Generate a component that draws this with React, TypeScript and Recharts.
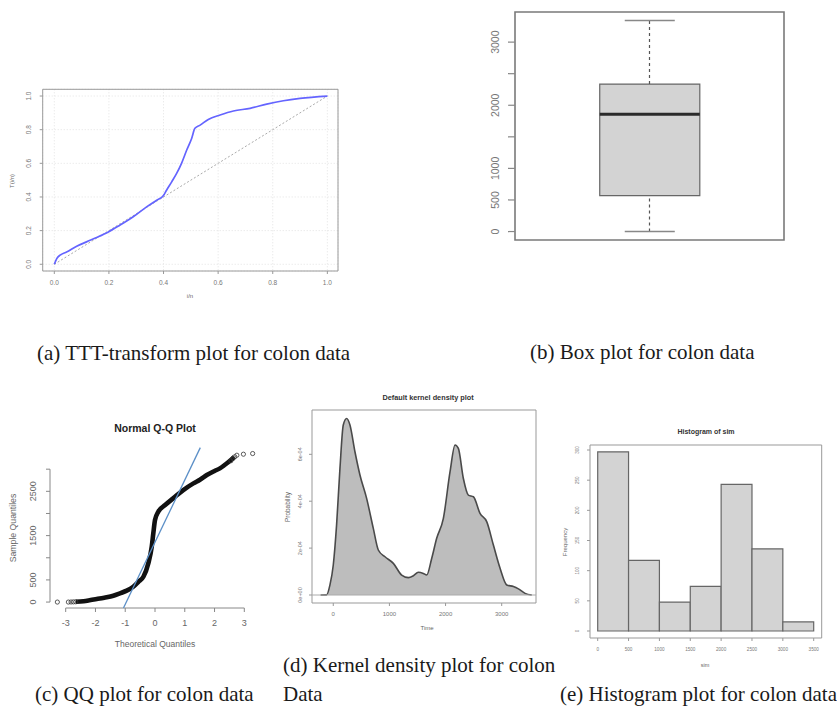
import React from 'react';
import {
  ComposedChart, Line, Area, Scatter, XAxis, YAxis, CartesianGrid,
  ReferenceLine, ReferenceArea,
} from 'recharts';

const SANS = '"Liberation Sans", Arial, sans-serif';
const SERIF = '"Liberation Serif", "Times New Roman", serif';

// (a) TTT-transform
const tttU = [0, 0.009, 0.021, 0.045, 0.082, 0.118, 0.155, 0.198, 0.24, 0.289, 0.338, 0.375, 0.399, 0.411, 0.43, 0.448, 0.466, 0.485, 0.503, 0.515, 0.534, 0.564, 0.607, 0.656, 0.717, 0.778, 0.839, 0.9, 1.0];
const tttT = [0, 0.034, 0.054, 0.073, 0.107, 0.133, 0.159, 0.192, 0.232, 0.282, 0.341, 0.381, 0.407, 0.44, 0.49, 0.54, 0.6, 0.679, 0.748, 0.808, 0.827, 0.861, 0.887, 0.911, 0.927, 0.952, 0.972, 0.986, 1.0];
const tttTicks = [0, 0.2, 0.4, 0.6, 0.8, 1.0];

// (b) Box plot
const boxMin = 0;
const boxQ1 = 569;
const boxMedian = 1857;
const boxQ3 = 2336;
const boxMax = 3343;
const boxTicks = [0, 500, 1000, 1500, 2000, 2500, 3000];
const boxTickLabels = [0, 500, 1000, 2000, 3000];

// (c) QQ plot
const qqTheo = [-2.66, -2.4, -2.2, -1.96, -1.7, -1.4, -1.18, -0.95, -0.73, -0.55, -0.39, -0.225, -0.11, -0.057, 0, 0.11, 0.34, 0.61, 0.95, 1.29, 1.51, 1.74, 2.0, 2.18, 2.35, 2.52, 2.66];
const qqSample = [8, 20, 40, 68, 100, 143, 196, 257, 346, 460, 571, 873, 1248, 1551, 1851, 2038, 2190, 2341, 2528, 2679, 2760, 2867, 2960, 3018, 3100, 3190, 3280];
const qqTailTheo = [-3.28, -2.91, -2.82, -2.74, -2.66, 2.55, 2.62, 2.68, 2.75, 2.97, 3.28];
const qqTailSample = [0, 0, 2, 4, 6, 3190, 3240, 3280, 3315, 3338, 3353];
const qqLineIntercept = 1352;
const qqLineSlope = 1403;
const qqXTicks = [-3, -2, -1, 0, 1, 2, 3];
const qqYTicks = [0, 500, 1000, 1500, 2000, 2500, 3000];
const qqYLabels = [0, 500, 1500, 2500];

// (d) Kernel density
const densX = [-226, -119, -59, 0, 59, 119, 178, 238, 297, 386, 475, 594, 713, 802, 921, 1070, 1218, 1337, 1426, 1515, 1604, 1664, 1753, 1842, 1961, 2080, 2169, 2228, 2317, 2406, 2496, 2614, 2733, 2852, 2971, 3090, 3209, 3298, 3417, 3535];
const densY = [0, 0.0000007, 0.000043, 0.000128, 0.000299, 0.00054, 0.000725, 0.000753, 0.000725, 0.000611, 0.000512, 0.000412, 0.000284, 0.000192, 0.000163, 0.000135, 0.000085, 0.000074, 0.000082, 0.000097, 0.000092, 0.000085, 0.000156, 0.000242, 0.000327, 0.000526, 0.00064, 0.000625, 0.000497, 0.000426, 0.000419, 0.000348, 0.000313, 0.000213, 0.000114, 0.000043, 0.000036, 0.000026, 0.000007, 0];
const densXTicks = [0, 1000, 2000, 3000];
const densYTicks = [0, 0.0002, 0.0004, 0.0006];
const densYLabels = ['0e+00', '2e-04', '4e-04', '6e-04'];

// (e) Histogram
const histBreaks = [0, 500, 1000, 1500, 2000, 2500, 3000, 3500];
const histCounts = [297, 117, 48, 74, 243, 136, 15];
const histYTicks = [0, 50, 100, 150, 200, 250, 300];

const mkXTick = (fs: number, off: number, fill: string, fmt?: (v: any) => string) => (p: any) => {
  const v = p.payload?.value;
  return (
    <text x={p.x} y={p.y + off} textAnchor="middle" dominantBaseline="central"
      fontSize={fs} fill={fill} fontFamily={SANS}>{fmt ? fmt(v) : String(v)}</text>
  );
};
const mkYTick = (fs: number, off: number, fill: string, fmt?: (v: any) => string, show?: any[]) => (p: any) => {
  const v = p.payload?.value;
  if (show && !show.includes(v)) return <g />;
  const cx = p.x - off;
  return (
    <text x={cx} y={p.y} transform={`rotate(-90 ${cx} ${p.y})`} textAnchor="middle"
      dominantBaseline="central" fontSize={fs} fill={fill} fontFamily={SANS}>{fmt ? fmt(v) : String(v)}</text>
  );
};

function PanelA() {
  const data = tttU.map((u, i) => ({ u, t: tttT[i] }));
  const xd = [-0.0425, 1.039];
  const yd = [-0.04, 1.04];
  return (
    <div style={{ position: 'absolute', left: 0, top: 80 }}>
      <ComposedChart width={350} height={230} data={data} margin={{ top: 9.3, right: 12, bottom: 14, left: 7.7 }}>
        <CartesianGrid stroke="#e2e2e2" strokeDasharray="1 2" fill="none" />
        <XAxis type="number" dataKey="u" domain={xd} ticks={tttTicks} interval={0} allowDataOverflow
          axisLine={false} tickSize={3} tickMargin={0} tickLine={{ stroke: '#999' }} height={25}
          tick={mkXTick(6.5, 8, '#777', (v) => Number(v).toFixed(1))} />
        <YAxis type="number" domain={yd} ticks={tttTicks} interval={0} allowDataOverflow
          axisLine={false} tickSize={3} tickMargin={0} tickLine={{ stroke: '#999' }} width={35}
          tick={mkYTick(6.5, 10.7, '#777', (v) => Number(v).toFixed(1))} />
        <ReferenceArea x1={xd[0]} x2={xd[1]} y1={yd[0]} y2={yd[1]} fill="none" stroke="#9a9a9a" strokeWidth={1} ifOverflow="visible" />
        <ReferenceLine segment={[{ x: 0, y: 0 }, { x: 1, y: 1 }]} stroke="#aaa" strokeDasharray="2 2" strokeWidth={1} ifOverflow="visible" />
        <Line dataKey="t" type="monotone" stroke="#6464ff" strokeWidth={1.7} dot={false} isAnimationActive={false} />
      </ComposedChart>
    </div>
  );
}

function PanelB() {
  const yd = [-134, 3477];
  return (
    <div style={{ position: 'absolute', left: 470, top: 0 }}>
      <ComposedChart width={367} height={250} data={[{ x: 1, y: boxMedian }]} margin={{ top: 12, right: 53, bottom: 10, left: 5 }}>
        <XAxis type="number" dataKey="x" domain={[0.5, 1.5]} hide />
        <YAxis type="number" domain={yd} ticks={boxTicks} interval={0} allowDataOverflow
          axisLine={false} tickSize={7} tickMargin={0} tickLine={{ stroke: '#888', strokeWidth: 1.2 }} width={40}
          tick={mkYTick(10.5, 13, '#777', undefined, boxTickLabels)} />
        <ReferenceArea x1={0.5} x2={1.5} y1={yd[0]} y2={yd[1]} fill="none" stroke="#7a7a7a" strokeWidth={1.6} ifOverflow="visible" />
        <ReferenceLine segment={[{ x: 1, y: boxQ3 }, { x: 1, y: boxMax }]} stroke="#555" strokeDasharray="3 3" strokeWidth={1.2} />
        <ReferenceLine segment={[{ x: 1, y: boxMin }, { x: 1, y: boxQ1 }]} stroke="#555" strokeDasharray="3 3" strokeWidth={1.2} />
        <ReferenceLine segment={[{ x: 0.908, y: boxMax }, { x: 1.094, y: boxMax }]} stroke="#888" strokeWidth={1.6} />
        <ReferenceLine segment={[{ x: 0.908, y: boxMin }, { x: 1.094, y: boxMin }]} stroke="#888" strokeWidth={1.6} />
        <ReferenceArea x1={0.815} x2={1.187} y1={boxQ1} y2={boxQ3} fill="#d3d3d3" fillOpacity={1} stroke="#666" strokeWidth={1.2} />
        <ReferenceLine segment={[{ x: 0.815, y: boxMedian }, { x: 1.187, y: boxMedian }]} stroke="#2a2a2a" strokeWidth={3} />
      </ComposedChart>
    </div>
  );
}

const QQDot = (p: any) => (
  <circle cx={p.cx} cy={p.cy} r={2.1} fill="none" stroke="#333" strokeWidth={0.8} />
);

function PanelC() {
  const qqData = qqTheo.map((t, i) => ({ t, s: qqSample[i] }));
  const qqTail = qqTailTheo.map((t, i) => ({ t, s: qqTailSample[i] }));
  const xd = [-3.527, 3.527];
  const yd = [-134, 3487];
  const lineStart = { x: (yd[0] - qqLineIntercept) / qqLineSlope, y: yd[0] };
  const lineEnd = { x: (yd[1] - qqLineIntercept) / qqLineSlope, y: yd[1] };
  return (
    <div style={{ position: 'absolute', left: 0, top: 410 }}>
      <ComposedChart width={280} height={260} margin={{ top: 37.6, right: 20, bottom: 32, left: 5 }}>
        <XAxis type="number" dataKey="t" domain={xd} ticks={qqXTicks} interval={0} allowDataOverflow
          axisLine={false} tickSize={4} tickMargin={0} tickLine={{ stroke: '#888' }} height={30}
          tick={mkXTick(9, 11, '#666')} />
        <YAxis type="number" domain={yd} ticks={qqYTicks} interval={0} allowDataOverflow
          axisLine={false} tickSize={4} tickMargin={0} tickLine={{ stroke: '#888' }} width={45}
          tick={mkYTick(9, 13, '#666', undefined, qqYLabels)} />
        <ReferenceLine segment={[{ x: -3, y: yd[0] }, { x: 3, y: yd[0] }]} stroke="#888" ifOverflow="visible" />
        <ReferenceLine segment={[{ x: xd[0], y: 0 }, { x: xd[0], y: 3000 }]} stroke="#888" ifOverflow="visible" />
        <Line data={qqData} dataKey="s" type="monotone" stroke="#111" strokeWidth={4.6} dot={false} isAnimationActive={false} />
        <Scatter data={qqTail} dataKey="s" shape={QQDot} isAnimationActive={false} />
        <ReferenceLine segment={[lineStart, lineEnd]} stroke="#5b8fc7" strokeWidth={1.3} ifOverflow="visible" />
      </ComposedChart>
    </div>
  );
}

function PanelD() {
  const data = densX.map((x, i) => ({ x, y: densY[i] }));
  const xd = [-379, 3611];
  const yd = [-0.0000341, 0.000789];
  return (
    <div style={{ position: 'absolute', left: 280, top: 385 }}>
      <ComposedChart width={280} height={260} data={data} margin={{ top: 25, right: 24, bottom: 12, left: 5 }}>
        <XAxis type="number" dataKey="x" domain={xd} ticks={densXTicks} interval={0} allowDataOverflow
          axisLine={false} tickSize={3} tickMargin={0} tickLine={{ stroke: '#999' }} height={30}
          tick={mkXTick(6, 8, '#777')} />
        <YAxis type="number" domain={yd} ticks={densYTicks} interval={0} allowDataOverflow
          axisLine={false} tickSize={3} tickMargin={0} tickLine={{ stroke: '#999' }} width={27}
          tick={mkYTick(5.5, 9, '#777', (v) => densYLabels[densYTicks.indexOf(v)] ?? '')} />
        <ReferenceArea x1={xd[0]} x2={xd[1]} y1={yd[0]} y2={yd[1]} fill="none" stroke="#999" strokeWidth={1} ifOverflow="visible" />
        <ReferenceLine y={0} stroke="#aaa" strokeWidth={1} />
        <Area dataKey="y" type="monotone" fill="#bdbdbd" fillOpacity={1} stroke="#4a4a4a" strokeWidth={1.6} isAnimationActive={false} />
      </ComposedChart>
    </div>
  );
}

function PanelE() {
  const xd = [-124.8, 3629.7];
  const yd = [-11.6, 308.3];
  return (
    <div style={{ position: 'absolute', left: 555, top: 420 }}>
      <ComposedChart width={282} height={255} data={[{ x: 0, y: 0 }]} margin={{ top: 25, right: 15.3, bottom: 7, left: 5 }}>
        <XAxis type="number" dataKey="x" domain={xd} ticks={histBreaks} interval={0} allowDataOverflow
          axisLine={false} tickSize={3} tickMargin={0} tickLine={{ stroke: '#999' }} height={30}
          tick={mkXTick(4.6, 8, '#777')} />
        <YAxis type="number" domain={yd} ticks={histYTicks} interval={0} allowDataOverflow
          axisLine={false} tickSize={3} tickMargin={0} tickLine={{ stroke: '#999' }} width={30}
          tick={mkYTick(4.6, 9, '#777')} />
        <ReferenceArea x1={xd[0]} x2={xd[1]} y1={yd[0]} y2={yd[1]} fill="none" stroke="#999" strokeWidth={1} ifOverflow="visible" />
        {histCounts.map((c, i) => (
          <ReferenceArea key={i} x1={histBreaks[i]} x2={histBreaks[i + 1]} y1={0} y2={c}
            fill="#d3d3d3" fillOpacity={1} stroke="#666" strokeWidth={1.2} />
        ))}
      </ComposedChart>
    </div>
  );
}

function Overlay() {
  const rot = (x: number, y: number) => `rotate(-90 ${x} ${y})`;
  return (
    <svg width={837} height={707} style={{ position: 'absolute', left: 0, top: 0, pointerEvents: 'none' }}>
      <g fontFamily={SANS} fill="#666" textAnchor="middle" dominantBaseline="central">
        <text x={12} y={181} fontSize={6} transform={rot(12, 181)}>T(i/n)</text>
        <text x={190} y={296} fontSize={6}>i/n</text>
        <text x={155} y={428} fontSize={10.5} fontWeight="bold" fill="#222">Normal Q-Q Plot</text>
        <text x={155} y={644} fontSize={8.5}>Theoretical Quantiles</text>
        <text x={13} y={528} fontSize={8.7} transform={rot(13, 528)}>Sample Quantiles</text>
        <text x={428} y={397} fontSize={7.3} fontWeight="bold" fill="#333">Default kernel density plot</text>
        <text x={427} y={628} fontSize={6}>Time</text>
        <text x={287} y={507} fontSize={6.4} transform={rot(287, 507)}>Probability</text>
        <text x={706} y={431} fontSize={7} fontWeight="bold" fill="#333">Histogram of sim</text>
        <text x={705} y={665} fontSize={5.5}>sim</text>
        <text x={565} y={542} fontSize={6} transform={rot(565, 542)}>Frequency</text>
      </g>
      <g fontFamily={SERIF} fill="#1a1a1a" fontSize={21}>
        <text x={37} y={360}>(a) TTT-transform plot for colon data</text>
        <text x={530} y={359}>(b) Box plot for colon data</text>
        <text x={35} y={701}>(c) QQ plot for colon data</text>
        <text x={283} y={672}>(d) Kernel density plot for colon</text>
        <text x={283} y={701}>Data</text>
        <text x={560} y={701}>(e) Histogram plot for colon data</text>
      </g>
    </svg>
  );
}

export default function App() {
  return (
    <div style={{ position: 'absolute', left: 0, top: 0, width: 837, height: 707, background: '#fff', overflow: 'hidden' }}>
      <PanelA />
      <PanelB />
      <PanelC />
      <PanelD />
      <PanelE />
      <Overlay />
    </div>
  );
}
